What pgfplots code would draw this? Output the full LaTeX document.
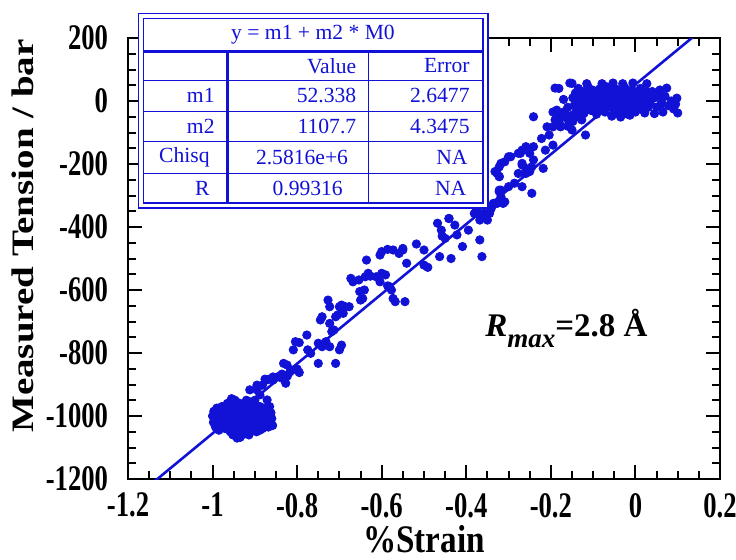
\documentclass[border=0pt]{standalone}
\usepackage{pgfplots}
\pgfplotsset{compat=1.18}
\usepackage{fontspec}
\setmainfont{Liberation Serif}
\definecolor{kb}{RGB}{18,18,215}
\begin{document}
\begin{tikzpicture}
\path[use as bounding box] (-64pt,-40pt) rectangle (304pt,239.5pt);
\begin{axis}[
  at={(0,0)}, anchor=south west,
  scale only axis, width=296pt, height=220.5pt,
  xmin=-1.2, xmax=0.2, ymin=-1200, ymax=200,
  xtick={-1.2,-1,-0.8,-0.6,-0.4,-0.2,0,0.2},
  xticklabels={-1.2,-1,-0.8,-0.6,-0.4,-0.2,0,0.2},
  ytick={-1200,-1000,-800,-600,-400,-200,0,200},
  yticklabels={-1200,-1000,-800,-600,-400,-200,0,200},
  minor tick num=3,
  tick align=inside, tick pos=both, ticklabel pos=left,
  major tick length=7pt, minor tick length=4pt,
  every tick/.style={black, line width=1pt},
  axis line style={line width=1.2pt},
  ticklabel style={font=\fontsize{18}{20}\selectfont\bfseries, xscale=0.74},
  xticklabel style={yshift=-3.5pt},
  yticklabel style={xshift=-10pt},
  xlabel={\%Strain},
  ylabel={Measured Tension / bar},
  xlabel style={font=\fontsize{19.5}{22}\selectfont\bfseries, at={(axis description cs:0.5,-0.166)}, anchor=base, inner sep=0pt, xscale=0.85},
  ylabel style={font=\fontsize{19.5}{22}\selectfont\bfseries, at={(axis description cs:-0.1774,0.551)}, anchor=center, rotate=0, yscale=0.8},
]
\addplot[only marks, mark=*, mark size=2.1pt, kb, mark options={draw=kb, fill=kb}] coordinates {
(-0.985,-1000)(-0.99,-1015)(-0.98,-985)(-0.978,-1025)(-0.975,-1005)(-0.972,-990)(-0.97,-1040)(-0.968,-970)(-0.965,-1010)(-0.963,-1030)
(-0.96,-995)(-0.958,-1050)(-0.957,-980)(-0.955,-960)(-0.952,-1020)(-0.95,-1000)(-0.948,-1040)(-0.947,-950)(-0.945,-985)(-0.943,-1065)
(-0.94,-1010)(-0.938,-975)(-0.937,-1030)(-0.935,-995)(-0.932,-1055)(-0.93,-965)(-0.928,-1015)(-0.926,-985)(-0.925,-1045)(-0.922,-1000)
(-0.92,-970)(-0.918,-1025)(-0.916,-990)(-0.914,-1060)(-0.912,-955)(-0.91,-1010)(-0.908,-980)(-0.906,-1040)(-0.904,-995)(-0.902,-1020)
(-0.9,-965)(-0.898,-1005)(-0.896,-1050)(-0.894,-985)(-0.892,-1030)(-0.89,-1000)(-0.888,-970)(-0.886,-1015)(-0.884,-990)(-0.882,-1040)
(-0.88,-1005)(-0.878,-975)(-0.876,-1025)(-0.874,-995)(-0.872,-1010)(-0.87,-985)(-0.868,-1035)(-0.866,-1000)(-0.864,-1020)(-0.862,-990)
(-0.86,-1008)(-0.98,-1010)(-0.975,-1035)(-0.968,-1000)(-0.962,-985)(-0.955,-1025)(-0.95,-975)(-0.945,-1015)(-0.94,-1045)(-0.935,-960)
(-0.93,-1000)(-0.925,-1020)(-0.92,-1040)(-0.915,-975)(-0.91,-995)(-0.905,-1015)(-0.9,-1035)(-0.895,-975)(-0.89,-1020)(-0.885,-995)
(-0.88,-1030)(-0.875,-1010)(-0.96,-1045)(-0.952,-1060)(-0.942,-1070)(-0.93,-1060)(-0.965,-960)(-0.958,-1005)(-0.948,-990)(-0.938,-1020)
(-0.928,-990)(-0.918,-1005)(-0.908,-1025)(-0.898,-990)(-0.888,-1045)(-0.978,-970)(-0.97,-1020)(-0.944,-955)(-0.92,-950)(-0.9,-950)
(-1.0,-1000)(-0.997,-985)(-0.998,-1020)(-0.993,-1035)(-0.99,-975)(-0.985,-1045)(-0.955,-945)(-0.935,-1068)(-0.865,-970)(-0.858,-1030)
(-0.912,-917)(-0.895,-902)(-0.876,-883)(-0.857,-876)(-0.836,-867)(-0.817,-860)(-0.80,-851)(-0.888,-933)(-0.871,-949)
(-0.895,-917)(-0.882,-902)(-0.873,-886)(-0.868,-884)(-0.857,-886)(-0.845,-875)(-0.836,-880)(-0.827,-896)(-0.823,-873)(-0.832,-833)
(-0.824,-838)(-0.813,-854)(-0.800,-854)(-0.795,-862)(-0.809,-790)(-0.804,-764)(-0.795,-767)(-0.777,-743)(-0.775,-790)(-0.768,-801)
(-0.750,-833)(-0.709,-833)(-0.750,-769)(-0.741,-780)(-0.732,-764)(-0.723,-780)(-0.700,-790)(-0.695,-775)(-0.745,-695)(-0.741,-685)
(-0.727,-632)(-0.723,-653)(-0.718,-732)(-0.713,-727)(-0.709,-685)(-0.704,-679)(-0.700,-653)(-0.695,-648)(-0.686,-653)(-0.677,-653)
(-0.691,-674)(-0.723,-706)(-0.650,-632)(-0.652,-605)(-0.645,-627)(-0.641,-600)(-0.673,-563)(-0.668,-574)(-0.654,-568)(-0.639,-558)
(-0.632,-547)(-0.627,-556)(-0.613,-558)(-0.604,-574)(-0.600,-547)(-0.591,-552)(-0.586,-587)(-0.582,-589)(-0.577,-600)(-0.573,-627)
(-0.568,-637)(-0.545,-637)(-0.636,-505)(-0.604,-489)(-0.600,-478)(-0.586,-471)(-0.573,-473)(-0.559,-484)(-0.550,-473)(-0.541,-515)
(-0.550,-468)(-0.518,-454)(-0.500,-473)(-0.500,-521)(-0.491,-528)(-0.463,-494)(-0.468,-388)(-0.459,-410)(-0.457,-429)(-0.450,-436)
(-0.441,-373)(-0.427,-394)(-0.422,-425)(-0.436,-500)(-0.409,-462)(-0.395,-410)(-0.381,-357)(-0.368,-441)(-0.363,-494)(-0.368,-378)
(-0.359,-357)(-0.350,-378)(-0.341,-341)(-0.336,-325)(-0.345,-357)(-0.327,-325)(-0.322,-288)(-0.318,-283)(-0.309,-320)(-0.332,-224)
(-0.322,-240)(-0.318,-198)(-0.309,-193)(-0.295,-177)(-0.272,-166)(-0.268,-203)(-0.259,-214)(-0.245,-209)(-0.218,-214)(-0.250,-224)
(-0.181,40)(-0.150,56)(-0.241,-50)(-0.186,-29)(-0.181,-50)(-0.168,-34)(-0.195,-82)(-0.204,-108)(-0.209,-82)(-0.177,-82)
(-0.159,-60)(-0.141,-50)(-0.127,-60)(-0.118,-108)(-0.150,-92)(-0.222,-119)(-0.241,-145)(-0.259,-145)(-0.268,-156)(-0.277,-166)
(-0.250,-166)(-0.241,-187)(-0.213,-156)(-0.195,-140)(-0.268,-198)(-0.277,-230)(-0.259,-230)(-0.250,-219)(-0.300,-177)(-0.322,-209)
(-0.327,-230)(-0.322,-240)(-0.245,-293)(-0.268,-272)(-0.286,-261)(-0.300,-272)(-0.322,-283)(-0.318,-304)(-0.332,-325)(-0.313,-325)
(-0.377,-351)(-0.368,-357)(-0.345,-351)(-0.441,-373)
(-0.148,10)(-0.145,-15)(-0.142,25)(-0.14,-35)(-0.138,0)(-0.135,40)(-0.132,-20)(-0.13,15)(-0.127,-5)(-0.125,30)
(-0.122,-40)(-0.12,5)(-0.118,-25)(-0.115,20)(-0.112,45)(-0.11,-10)(-0.108,10)(-0.105,-30)(-0.102,35)(-0.1,0)
(-0.098,-18)(-0.095,22)(-0.092,-42)(-0.09,8)(-0.088,-5)(-0.085,38)(-0.082,-25)(-0.08,15)(-0.078,-12)(-0.075,28)
(-0.072,-35)(-0.07,2)(-0.068,45)(-0.065,-20)(-0.062,18)(-0.06,-8)(-0.058,30)(-0.055,-45)(-0.052,10)(-0.05,-28)
(-0.048,40)(-0.045,-3)(-0.042,20)(-0.04,-38)(-0.038,5)(-0.035,33)(-0.032,-15)(-0.03,12)(-0.028,-30)(-0.025,42)
(-0.022,-5)(-0.02,25)(-0.018,-42)(-0.015,0)(-0.012,18)(-0.01,-22)(-0.008,35)(-0.005,-10)(-0.002,8)(0,-35)
(0.003,28)(0.005,-2)(0.008,15)(0.01,-25)(0.012,40)(0.015,5)(0.018,-15)(0.02,22)(0.022,-38)(0.025,0)
(0.028,30)(0.03,-20)(0.033,10)(0.035,-8)
(-0.14,15)(-0.13,-30)(-0.12,25)(-0.11,-5)(-0.1,20)(-0.09,-30)(-0.08,0)(-0.07,25)(-0.06,-15)(-0.05,15)
(-0.04,-10)(-0.03,30)(-0.02,-20)(-0.01,10)(0,15)(0.01,-5)(0.02,-28)(-0.135,-8)(-0.115,-15)(-0.095,5)
(-0.075,-10)(-0.055,5)(-0.035,-25)(-0.015,-8)(0.005,25)(0.025,18)(-0.105,12)(-0.085,15)(-0.065,5)(-0.045,25)
(-0.025,10)(-0.005,-28)(0.015,-18)
(-0.115,55)(-0.079,55)(-0.053,57)(-0.03,55)(-0.006,57)(0.027,55)(-0.155,57)(-0.19,41)
(0.045,10)(0.05,-20)(0.058,35)(0.062,-5)(0.065,-35)(0.07,15)(0.074,41)(0.078,-15)(0.085,0)(0.09,-25)
(0.098,9)(0.1,-38)(0.095,-10)(0.06,-13)(0.055,19)(0.045,-40)(0.04,30)
(-0.056,-48)(-0.035,-51)(-0.013,-45)
(-0.195,-35)(-0.19,-60)(-0.18,-70)(-0.17,-50)(-0.16,-80)(-0.15,-45)(-0.148,-65)(-0.16,-20)(-0.17,5)
};
\addplot[kb, line width=1.3pt, no marks] coordinates {(-1.2,-1276.9) (0.2,273.9)};
\node[anchor=base west, font=\fontsize{16.5}{18}\selectfont\bfseries\itshape, inner sep=0pt] at (axis cs:-0.356,-749)
  {R\raisebox{-5.5pt}{\fontsize{13.5}{14}\selectfont max}\upshape =2.8~Å};
\end{axis}
% fit table
\begin{scope}[kb]
\fill[white] (5.15pt,135.5pt) rectangle (180pt,232.85pt);
\draw[line width=0.6pt] (5.15pt,135.5pt) rectangle (180pt,232.85pt);
\draw[line width=0.6pt] (7.65pt,138pt) rectangle (177.5pt,230.35pt);
\draw[line width=1.5pt] (7.65pt,213.65pt) -- (177.5pt,213.65pt);
\draw[line width=0.5pt] (7.65pt,199.5pt) -- (177.5pt,199.5pt);
\draw[line width=0.5pt] (7.65pt,183.65pt) -- (177.5pt,183.65pt);
\draw[line width=0.5pt] (7.65pt,168.65pt) -- (177.5pt,168.65pt);
\draw[line width=0.5pt] (7.65pt,152.85pt) -- (177.5pt,152.85pt);
\draw[line width=1.5pt] (49.85pt,138pt) -- (49.85pt,213.65pt);
\draw[line width=0.7pt] (120.15pt,138pt) -- (120.15pt,213.65pt);
\begin{scope}[every node/.style={font=\fontsize{10.8}{12}\selectfont, text=kb, inner sep=0pt}]
\node at (92.5pt,222pt) {y = m1 + m2 * M0};
\node[anchor=east] at (114.3pt,206.6pt) {Value};
\node[anchor=east] at (171pt,206.6pt) {Error};
\node[anchor=east] at (43.5pt,191.6pt) {m1};
\node[anchor=east] at (114.3pt,191.6pt) {52.338};
\node[anchor=east] at (171pt,191.6pt) {2.6477};
\node[anchor=east] at (43.5pt,176.2pt) {m2};
\node[anchor=east] at (114.3pt,176.2pt) {1107.7};
\node[anchor=east] at (171pt,176.2pt) {4.3475};
\node[anchor=east] at (41pt,160.75pt) {Chisq};
\node[anchor=east] at (110.2pt,160.75pt) {2.5816e+6};
\node[anchor=east] at (170pt,160.75pt) {NA};
\node[anchor=east] at (41pt,145.4pt) {R};
\node[anchor=east] at (107.6pt,145.4pt) {0.99316};
\node[anchor=east] at (169.3pt,145.4pt) {NA};
\end{scope}
\end{scope}
\end{tikzpicture}
\end{document}
